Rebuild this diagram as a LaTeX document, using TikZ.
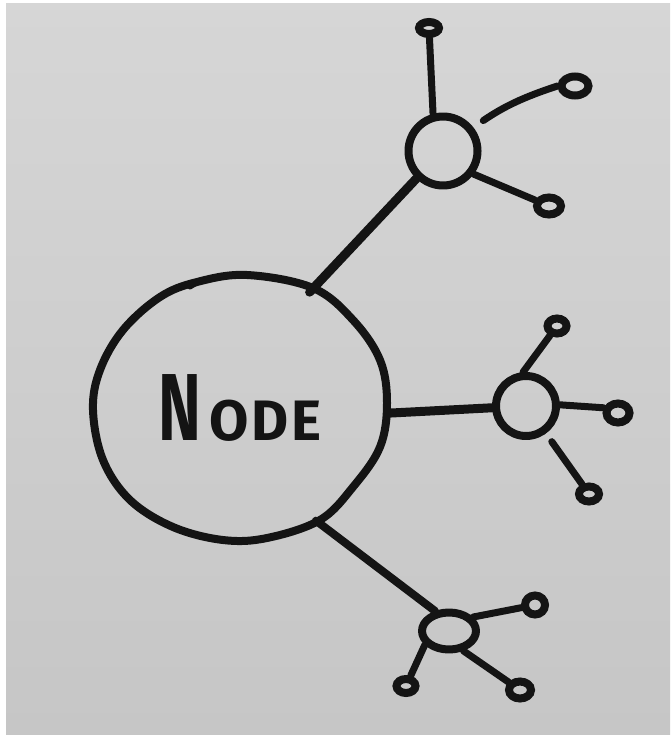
\documentclass[tikz,border=0pt]{standalone}
\usepackage{fontspec}
\usepackage{graphicx}
\setmainfont{Fira Sans}
\usetikzlibrary{shapes.geometric}
\definecolor{ink}{HTML}{141414}
\definecolor{papertop}{HTML}{D6D6D6}
\definecolor{paperbot}{HTML}{C6C6C6}

\begin{document}
\begin{tikzpicture}[x=1pt,y=-1pt,
  pen/.style={draw=ink, line width=8pt, line cap=round, line join=round},
  hub/.style={pen, ellipse, inner sep=0pt},
  leaf/.style={draw=ink, line width=8pt, ellipse, inner sep=0pt},
  spoke/.style={draw=ink, line width=7pt, line cap=round},
  link/.style={draw=ink, line width=9pt, line cap=round}]

% sheet of paper
\useasboundingbox (0,0) rectangle (670,735);
\fill[white] (0,0) rectangle (670,735);
\shade[top color=papertop, bottom color=paperbot] (6,4) rectangle (670,735);

% central node: hand-drawn outline with its overlapping pen stroke
\draw[pen] plot[smooth cycle, tension=0.6] coordinates {
  (197,282) (247,275) (313,288) (353,320) (380,360) (387,403)
  (380,447) (353,487) (320,520) (267,538) (223,540) (173,527)
  (130,500) (103,460) (93,410) (100,370) (123,330) (160,297)};
\draw[pen, line width=5pt] (190,287) .. controls (205,278) .. (232,276);

\node[ellipse, minimum width=296pt, minimum height=262pt, inner sep=0pt,
      text=ink, font=\bfseries] (main) at (240,408)
  {\scalebox{0.95}[1.4]{\fontsize{68}{68}\selectfont N}\kern8pt{\fontsize{57}{57}\selectfont O\kern3pt D\kern3pt E}};

% hubs
\node[hub, minimum width=69pt, minimum height=69pt] (hubA) at (443,151) {};
\node[hub, minimum width=60pt, minimum height=60pt] (hubB) at (526,406) {};
\node[hub, minimum width=54pt, minimum height=37pt] (hubC) at (449,631) {};

% leaves
\node[leaf, minimum width=20pt, minimum height=12pt] (a1) at (429,28) {};
\node[leaf, minimum width=27pt, minimum height=19pt] (a2) at (575,86) {};
\node[leaf, minimum width=24pt, minimum height=17pt] (a3) at (549,206) {};
\node[leaf, minimum width=19pt, minimum height=15pt] (b1) at (557,326) {};
\node[leaf, minimum width=23pt, minimum height=19pt] (b2) at (618,413) {};
\node[leaf, minimum width=20pt, minimum height=15pt] (b3) at (589,494) {};
\node[leaf, minimum width=20pt, minimum height=19pt] (c1) at (535,605) {};
\node[leaf, minimum width=19pt, minimum height=14pt] (c2) at (406,686) {};
\node[leaf, minimum width=22pt, minimum height=17pt] (c3) at (520,690) {};

% links from the central node to the hubs
\draw[link] (main.59) -- (hubA.226);
\draw[link] (main.-2) -- (hubB.183);
\draw[link, line width=8pt] (main.-56) -- (hubC.125);

% spokes from the hubs to the leaves
\draw[spoke] (hubA.105) -- (a1);
\draw[spoke, shorten <=12pt] (hubA.38) to[bend left=8] (a2.west);
\draw[spoke] (hubA.-37) -- (a3);
\draw[spoke] (hubB.95) -- (b1);
\draw[spoke] (hubB.2) -- (b2.160);
\draw[spoke, shorten <=10pt] (hubB.-54) -- (b3);
\draw[spoke] (hubC.30) -- (c1);
\draw[spoke] (hubC.210) -- (c2);
\draw[spoke] (hubC.-54) -- (c3);
\end{tikzpicture}
\end{document}
